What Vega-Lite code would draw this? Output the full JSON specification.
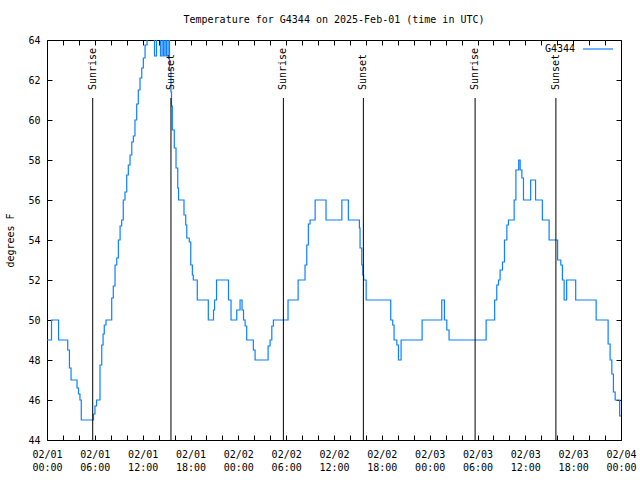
{
  "$schema": "https://vega.github.io/schema/vega-lite/v6.json",
  "width": 574,
  "height": 400,
  "autosize": "none",
  "padding": {"left": 47, "top": 40, "right": 19, "bottom": 40},
  "background": "white",
  "title": {"text": "Temperature for G4344 on 2025-Feb-01 (time in UTC)", "font": "DejaVu Sans Mono", "fontSize": 10, "fontWeight": "normal", "color": "black", "anchor": "middle", "offset": 8},
  "config": {"view": {"stroke": "black", "strokeWidth": 1}, "font": "DejaVu Sans Mono"},
  "datasets": {
    "temps": [
      {"t": "2025-02-01T00:00:00Z", "temp": 49},
      {"t": "2025-02-01T00:34:00Z", "temp": 50},
      {"t": "2025-02-01T01:27:00Z", "temp": 49},
      {"t": "2025-02-01T02:36:00Z", "temp": 48.5},
      {"t": "2025-02-01T02:49:00Z", "temp": 47.6},
      {"t": "2025-02-01T03:01:00Z", "temp": 47},
      {"t": "2025-02-01T03:46:00Z", "temp": 46.6},
      {"t": "2025-02-01T03:57:00Z", "temp": 46.3},
      {"t": "2025-02-01T04:08:00Z", "temp": 46},
      {"t": "2025-02-01T04:18:00Z", "temp": 45},
      {"t": "2025-02-01T05:50:00Z", "temp": 45.3},
      {"t": "2025-02-01T06:01:00Z", "temp": 45.7},
      {"t": "2025-02-01T06:13:00Z", "temp": 46},
      {"t": "2025-02-01T06:39:00Z", "temp": 47.75},
      {"t": "2025-02-01T06:52:00Z", "temp": 48.75},
      {"t": "2025-02-01T07:02:00Z", "temp": 49.3},
      {"t": "2025-02-01T07:11:00Z", "temp": 49.75},
      {"t": "2025-02-01T07:24:00Z", "temp": 50},
      {"t": "2025-02-01T08:07:00Z", "temp": 51.1},
      {"t": "2025-02-01T08:19:00Z", "temp": 51.7},
      {"t": "2025-02-01T08:32:00Z", "temp": 52.75},
      {"t": "2025-02-01T08:45:00Z", "temp": 53.1},
      {"t": "2025-02-01T08:57:00Z", "temp": 54},
      {"t": "2025-02-01T09:10:00Z", "temp": 54.7},
      {"t": "2025-02-01T09:22:00Z", "temp": 55},
      {"t": "2025-02-01T09:34:00Z", "temp": 56},
      {"t": "2025-02-01T09:47:00Z", "temp": 56.4},
      {"t": "2025-02-01T10:00:00Z", "temp": 57.25},
      {"t": "2025-02-01T10:12:00Z", "temp": 57.75},
      {"t": "2025-02-01T10:25:00Z", "temp": 58.25},
      {"t": "2025-02-01T10:38:00Z", "temp": 58.9},
      {"t": "2025-02-01T10:50:00Z", "temp": 59.2},
      {"t": "2025-02-01T11:02:00Z", "temp": 60},
      {"t": "2025-02-01T11:15:00Z", "temp": 60.8},
      {"t": "2025-02-01T11:27:00Z", "temp": 61.5},
      {"t": "2025-02-01T11:40:00Z", "temp": 62.1},
      {"t": "2025-02-01T11:53:00Z", "temp": 62.6},
      {"t": "2025-02-01T12:05:00Z", "temp": 63.1},
      {"t": "2025-02-01T12:18:00Z", "temp": 63.75},
      {"t": "2025-02-01T12:33:00Z", "temp": 64.3},
      {"t": "2025-02-01T12:48:00Z", "temp": 65},
      {"t": "2025-02-01T13:29:00Z", "temp": 63.2},
      {"t": "2025-02-01T13:44:00Z", "temp": 65},
      {"t": "2025-02-01T14:14:00Z", "temp": 63.2},
      {"t": "2025-02-01T14:26:00Z", "temp": 64.6},
      {"t": "2025-02-01T14:37:00Z", "temp": 63.2},
      {"t": "2025-02-01T14:48:00Z", "temp": 65},
      {"t": "2025-02-01T14:59:00Z", "temp": 63.2},
      {"t": "2025-02-01T15:11:00Z", "temp": 64.2},
      {"t": "2025-02-01T15:22:00Z", "temp": 62.5},
      {"t": "2025-02-01T15:33:00Z", "temp": 61.4},
      {"t": "2025-02-01T15:37:00Z", "temp": 60.7},
      {"t": "2025-02-01T15:43:00Z", "temp": 59.5},
      {"t": "2025-02-01T15:58:00Z", "temp": 58.6},
      {"t": "2025-02-01T16:11:00Z", "temp": 57.6},
      {"t": "2025-02-01T16:24:00Z", "temp": 56.6},
      {"t": "2025-02-01T16:30:00Z", "temp": 56},
      {"t": "2025-02-01T17:11:00Z", "temp": 55.25},
      {"t": "2025-02-01T17:24:00Z", "temp": 54.75},
      {"t": "2025-02-01T17:32:00Z", "temp": 54.1},
      {"t": "2025-02-01T17:51:00Z", "temp": 53.9},
      {"t": "2025-02-01T18:02:00Z", "temp": 52.75},
      {"t": "2025-02-01T18:14:00Z", "temp": 52.25},
      {"t": "2025-02-01T18:21:00Z", "temp": 52},
      {"t": "2025-02-01T18:51:00Z", "temp": 51},
      {"t": "2025-02-01T20:14:00Z", "temp": 50},
      {"t": "2025-02-01T20:53:00Z", "temp": 50.5},
      {"t": "2025-02-01T21:01:00Z", "temp": 51},
      {"t": "2025-02-01T21:16:00Z", "temp": 52},
      {"t": "2025-02-01T22:46:00Z", "temp": 51},
      {"t": "2025-02-01T23:05:00Z", "temp": 50},
      {"t": "2025-02-01T23:48:00Z", "temp": 50.5},
      {"t": "2025-02-02T00:13:00Z", "temp": 51},
      {"t": "2025-02-02T00:28:00Z", "temp": 50.5},
      {"t": "2025-02-02T00:39:00Z", "temp": 50},
      {"t": "2025-02-02T00:51:00Z", "temp": 49.7},
      {"t": "2025-02-02T01:03:00Z", "temp": 49},
      {"t": "2025-02-02T01:53:00Z", "temp": 48.5},
      {"t": "2025-02-02T02:06:00Z", "temp": 48},
      {"t": "2025-02-02T03:44:00Z", "temp": 48.7},
      {"t": "2025-02-02T03:59:00Z", "temp": 49},
      {"t": "2025-02-02T04:12:00Z", "temp": 49.7},
      {"t": "2025-02-02T04:24:00Z", "temp": 50},
      {"t": "2025-02-02T06:14:00Z", "temp": 51},
      {"t": "2025-02-02T07:30:00Z", "temp": 52},
      {"t": "2025-02-02T08:22:00Z", "temp": 52.75},
      {"t": "2025-02-02T08:35:00Z", "temp": 53.75},
      {"t": "2025-02-02T08:47:00Z", "temp": 54.8},
      {"t": "2025-02-02T09:00:00Z", "temp": 55},
      {"t": "2025-02-02T09:38:00Z", "temp": 56},
      {"t": "2025-02-02T11:00:00Z", "temp": 55},
      {"t": "2025-02-02T12:59:00Z", "temp": 56},
      {"t": "2025-02-02T13:48:00Z", "temp": 55},
      {"t": "2025-02-02T15:11:00Z", "temp": 54.6},
      {"t": "2025-02-02T15:16:00Z", "temp": 53.6},
      {"t": "2025-02-02T15:29:00Z", "temp": 52.75},
      {"t": "2025-02-02T15:37:00Z", "temp": 52.25},
      {"t": "2025-02-02T15:43:00Z", "temp": 52},
      {"t": "2025-02-02T16:02:00Z", "temp": 51},
      {"t": "2025-02-02T19:07:00Z", "temp": 50},
      {"t": "2025-02-02T19:22:00Z", "temp": 49.75},
      {"t": "2025-02-02T19:32:00Z", "temp": 49},
      {"t": "2025-02-02T19:53:00Z", "temp": 48.75},
      {"t": "2025-02-02T20:05:00Z", "temp": 48},
      {"t": "2025-02-02T20:25:00Z", "temp": 49},
      {"t": "2025-02-02T23:03:00Z", "temp": 50},
      {"t": "2025-02-03T01:31:00Z", "temp": 51},
      {"t": "2025-02-03T01:51:00Z", "temp": 50},
      {"t": "2025-02-03T02:09:00Z", "temp": 49.5},
      {"t": "2025-02-03T02:26:00Z", "temp": 49},
      {"t": "2025-02-03T07:05:00Z", "temp": 50},
      {"t": "2025-02-03T08:09:00Z", "temp": 51},
      {"t": "2025-02-03T08:25:00Z", "temp": 51.75},
      {"t": "2025-02-03T08:38:00Z", "temp": 52},
      {"t": "2025-02-03T08:50:00Z", "temp": 52.5},
      {"t": "2025-02-03T09:08:00Z", "temp": 52.9},
      {"t": "2025-02-03T09:23:00Z", "temp": 54},
      {"t": "2025-02-03T09:41:00Z", "temp": 54.75},
      {"t": "2025-02-03T09:53:00Z", "temp": 55},
      {"t": "2025-02-03T10:36:00Z", "temp": 56},
      {"t": "2025-02-03T10:49:00Z", "temp": 57.5},
      {"t": "2025-02-03T11:10:00Z", "temp": 58},
      {"t": "2025-02-03T11:21:00Z", "temp": 57.5},
      {"t": "2025-02-03T11:34:00Z", "temp": 57.1},
      {"t": "2025-02-03T11:46:00Z", "temp": 56},
      {"t": "2025-02-03T12:40:00Z", "temp": 57},
      {"t": "2025-02-03T13:17:00Z", "temp": 56},
      {"t": "2025-02-03T14:08:00Z", "temp": 55},
      {"t": "2025-02-03T14:59:00Z", "temp": 54},
      {"t": "2025-02-03T16:03:00Z", "temp": 53},
      {"t": "2025-02-03T16:27:00Z", "temp": 52.75},
      {"t": "2025-02-03T16:39:00Z", "temp": 52},
      {"t": "2025-02-03T16:52:00Z", "temp": 51},
      {"t": "2025-02-03T17:11:00Z", "temp": 52},
      {"t": "2025-02-03T18:19:00Z", "temp": 51},
      {"t": "2025-02-03T20:53:00Z", "temp": 50},
      {"t": "2025-02-03T22:23:00Z", "temp": 48.8},
      {"t": "2025-02-03T22:38:00Z", "temp": 48},
      {"t": "2025-02-03T22:51:00Z", "temp": 47.3},
      {"t": "2025-02-03T23:03:00Z", "temp": 46.4},
      {"t": "2025-02-03T23:16:00Z", "temp": 46},
      {"t": "2025-02-03T23:50:00Z", "temp": 45.2},
      {"t": "2025-02-04T00:00:00Z", "temp": 45.2}
    ],
    "sun": [
      {"t": "2025-02-01T05:44:00Z", "event": "Sunrise"},
      {"t": "2025-02-01T15:33:00Z", "event": "Sunset"},
      {"t": "2025-02-02T05:39:00Z", "event": "Sunrise"},
      {"t": "2025-02-02T15:41:00Z", "event": "Sunset"},
      {"t": "2025-02-03T05:42:00Z", "event": "Sunrise"},
      {"t": "2025-02-03T15:50:00Z", "event": "Sunset"}
    ]
  },
  "layer": [
    {
      "data": {"name": "temps"},
      "mark": {"type": "line", "interpolate": "step-after", "clip": true, "strokeWidth": 1.2},
      "encoding": {
        "x": {
          "field": "t", "type": "temporal",
          "scale": {"type": "utc", "domain": [1738368000000, 1738627200000], "nice": false},
          "axis": {
            "orient": "bottom", "title": null, "grid": false, "domain": false,
            "tickCount": 100,
            "values": [1738368000000, 1738375200000, 1738382400000, 1738389600000, 1738396800000, 1738404000000, 1738411200000, 1738418400000, 1738425600000, 1738432800000, 1738440000000, 1738447200000, 1738454400000, 1738461600000, 1738468800000, 1738476000000, 1738483200000, 1738490400000, 1738497600000, 1738504800000, 1738512000000, 1738519200000, 1738526400000, 1738533600000, 1738540800000, 1738548000000, 1738555200000, 1738562400000, 1738569600000, 1738576800000, 1738584000000, 1738591200000, 1738598400000, 1738605600000, 1738612800000, 1738620000000, 1738627200000],
            "tickSize": -5, "tickColor": "black", "tickWidth": 1,
            "labelPadding": 14, "labelBaseline": "top", "labelLineHeight": 13,
            "labelFont": "DejaVu Sans Mono", "labelFontSize": 10, "labelColor": "black",
            "labelOverlap": false, "labelFlush": false, "labelBound": false,
            "labelExpr": "utchours(datum.value) % 6 == 0 ? [utcFormat(datum.value, '%m/%d'), utcFormat(datum.value, '%H:%M')] : ''"
          }
        },
        "y": {
          "field": "temp", "type": "quantitative",
          "scale": {"domain": [44, 64], "nice": false, "zero": false},
          "axis": {
            "orient": "left", "grid": false, "domain": false,
            "tickCount": 100, "format": "d",
            "values": [44, 46, 48, 50, 52, 54, 56, 58, 60, 62, 64],
            "tickSize": -5, "tickColor": "black",
            "labelPadding": 12, "labelFont": "DejaVu Sans Mono", "labelFontSize": 10, "labelColor": "black",
            "labelOverlap": false, "labelFlush": false, "labelBound": false,
            "title": "degrees F", "titleFont": "DejaVu Sans Mono", "titleFontSize": 10, "titleFontWeight": "normal", "titleColor": "black",
            "titleX": -37, "titleY": 200, "titleAngle": 270, "titleAlign": "center", "titleBaseline": "middle"
          }
        },
        "color": {
          "datum": "G4344",
          "scale": {"range": ["#0c80ff"]},
          "legend": {
            "title": "G4344", "titleOrient": "left", "titleAnchor": "middle", "titleFont": "DejaVu Sans Mono", "titleFontSize": 10, "titleFontWeight": "normal", "titleColor": "black", "titlePadding": 6, "titleBaseline": "top",
            "labelExpr": "''", "symbolType": "stroke", "symbolSize": 900, "symbolStrokeWidth": 1.2,
            "orient": "none", "legendX": 498, "legendY": -7, "padding": 0
          }
        }
      }
    },
    {
      "data": {"name": "sun"},
      "mark": {"type": "rule", "color": "black", "strokeWidth": 1},
      "encoding": {
        "x": {
          "field": "t", "type": "temporal",
          "axis": {
            "orient": "top", "title": null, "grid": false, "domain": false, "labels": false,
            "tickCount": 100,
            "values": [1738368000000, 1738375200000, 1738382400000, 1738389600000, 1738396800000, 1738404000000, 1738411200000, 1738418400000, 1738425600000, 1738432800000, 1738440000000, 1738447200000, 1738454400000, 1738461600000, 1738468800000, 1738476000000, 1738483200000, 1738490400000, 1738497600000, 1738504800000, 1738512000000, 1738519200000, 1738526400000, 1738533600000, 1738540800000, 1738548000000, 1738555200000, 1738562400000, 1738569600000, 1738576800000, 1738584000000, 1738591200000, 1738598400000, 1738605600000, 1738612800000, 1738620000000, 1738627200000],
            "tickSize": -5, "tickColor": "black"
          }
        },
        "y": {
          "datum": 61.1, "type": "quantitative",
          "axis": {
            "orient": "right", "title": null, "grid": false, "domain": false, "labels": false,
            "tickCount": 100,
            "values": [44, 46, 48, 50, 52, 54, 56, 58, 60, 62, 64],
            "tickSize": -5, "tickColor": "black"
          }
        },
        "y2": {"datum": 44}
      }
    },
    {
      "data": {"name": "sun"},
      "mark": {"type": "text", "angle": 270, "align": "left", "baseline": "middle", "font": "DejaVu Sans Mono", "fontSize": 10, "color": "black", "dx": 1},
      "encoding": {
        "x": {"field": "t", "type": "temporal", "axis": null},
        "y": {"datum": 61.45, "type": "quantitative", "axis": null},
        "text": {"field": "event"}
      }
    }
  ],
  "resolve": {"axis": {"x": "independent", "y": "independent"}}
}
